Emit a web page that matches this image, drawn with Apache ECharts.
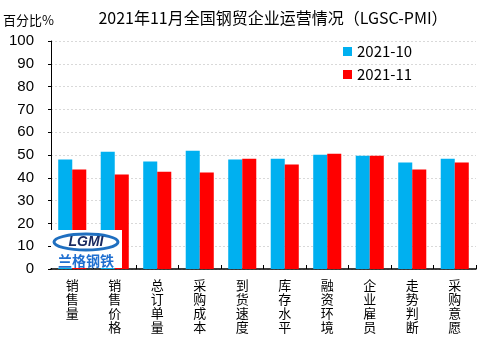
<!DOCTYPE html>
<html><head><meta charset="utf-8">
<script src="https://cdn.jsdelivr.net/npm/echarts@6/dist/echarts.min.js"></script>
<style>html,body{margin:0;padding:0;background:#fff}#c{width:487px;height:337px}</style>
</head><body><div id="c"></div>
<script>
const categories = ['销售量','销售价格','总订单量','采购成本','到货速度','库存水平','融资环境','企业雇员','走势判断','采购意愿'];
const seriesNames = ['2021-10','2021-11'];
const oct = [48.0, 51.4, 47.1, 51.9, 48.0, 48.4, 50.1, 49.7, 46.7, 48.4];
const nov = [43.6, 41.4, 42.7, 42.3, 48.4, 45.8, 50.6, 49.7, 43.6, 46.7];
const yTicks = [0,10,20,30,40,50,60,70,80,90,100];

const font = '"Noto Sans CJK SC", "Liberation Sans", sans-serif';
const chart = echarts.init(document.getElementById('c'));
chart.setOption({
  animation: false,
  textStyle: {fontFamily: font},
  title: {
    text: '2021年11月全国钢贸企业运营情况（LGSC-PMI）',
    left: 268, top: 5, textAlign: 'center',
    textStyle: {fontSize: 16, fontWeight: 'normal', color: '#000', fontFamily: font}
  },
  legend: {
    orient: 'vertical', left: 338, top: 39, itemGap: 8,
    itemWidth: 9, itemHeight: 9, icon: 'rect',
    textStyle: {fontSize: 15, color: '#000', fontFamily: font},
    data: seriesNames
  },
  grid: {left: 50, right: 11, top: 41, bottom: 68},
  xAxis: {
    type: 'category', data: categories,
    axisLine: {lineStyle: {color: '#000', width: 1.5}},
    axisTick: {show: true, inside: true, length: 4, lineStyle: {color: '#000'}},
    axisLabel: {
      interval: 0, fontSize: 13, color: '#000', lineHeight: 14, margin: 9,
      formatter: v => v.split('').join('\n')
    }
  },
  yAxis: {
    type: 'value', min: yTicks[0], max: yTicks[yTicks.length-1], interval: 10,
    name: '百分比%', nameLocation: 'end', nameGap: 14,
    nameTextStyle: {fontSize: 13, color: '#000', align: 'left', padding: [0,0,0,-48]},
    axisLine: {show: true, lineStyle: {color: '#000'}},
    axisTick: {show: true, length: 3, lineStyle: {color: '#000'}},
    axisLabel: {fontSize: 15, color: '#000', margin: 17, fontFamily: '"Liberation Sans", sans-serif'},
    splitLine: {lineStyle: {color: '#d9d9d9', type: [2,2]}}
  },
  series: [
    {name: seriesNames[0], type: 'bar', data: oct, barGap: '0%', barCategoryGap: '34%', itemStyle: {color: '#00B0F0'}},
    {name: seriesNames[1], type: 'bar', data: nov, itemStyle: {color: '#FF0000'}}
  ],
  graphic: [
    {type: 'group', x: 51, y: 230, z: 100, children: [
      {type: 'rect', z: 100, shape: {x: 0, y: 0, width: 71, height: 38}, style: {fill: '#fff'}},
      {type: 'ellipse', z: 101, shape: {cx: 35, cy: 12, rx: 32, ry: 8}, style: {fill: 'none', stroke: '#1f6fc0', lineWidth: 3}},
      {type: 'text', z: 102, style: {x: 35, y: 12, text: 'LGMI', align: 'center', verticalAlign: 'middle', font: 'bold italic 14px "Liberation Sans"', fill: '#1a2a60'}},
      {type: 'text', z: 102, style: {x: 35, y: 31, text: '兰格钢铁', align: 'center', verticalAlign: 'middle', font: 'bold 14px "Noto Sans CJK SC"', fill: '#1f6fd0'}}
    ]}
  ]
});
</script></body></html>
